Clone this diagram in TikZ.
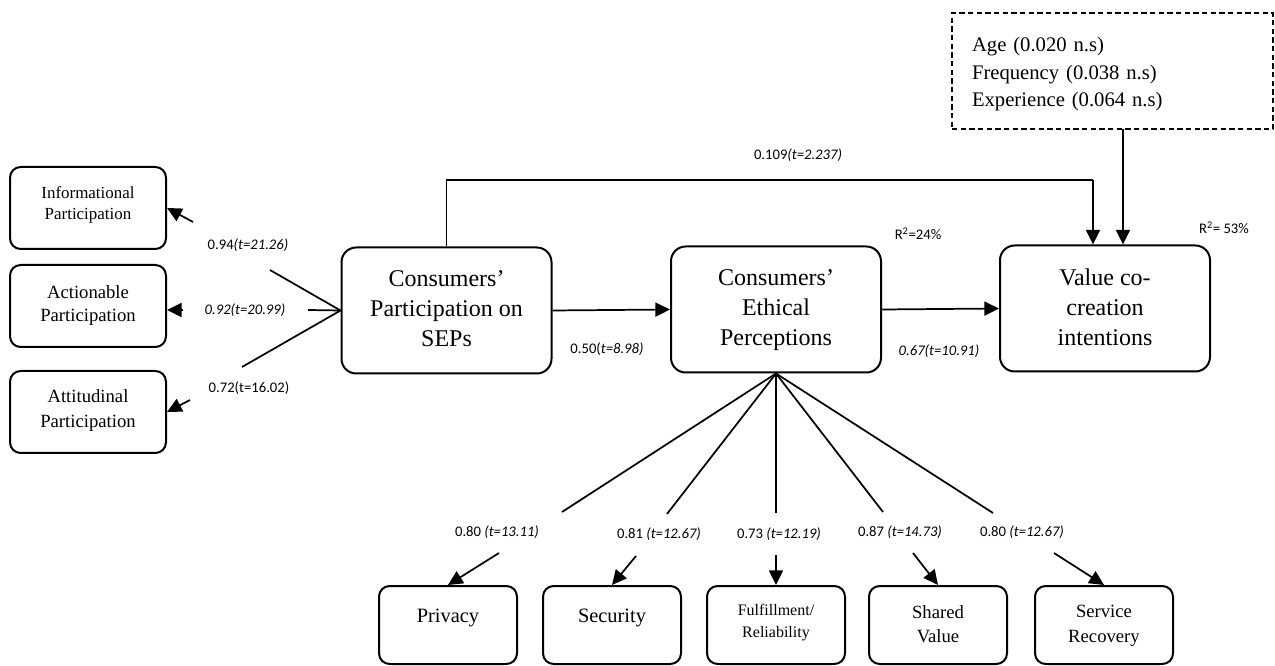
\documentclass[tikz,border=0pt]{standalone}
\usepackage{fontspec}
\setmainfont{Liberation Serif}
\newfontfamily\labfont{Carlito}
\usetikzlibrary{arrows.meta}
\newcommand{\liftlines}[2]{\raisebox{#1}[\height][\depth]{\begin{tabular}{@{}c@{}}#2\end{tabular}}}
\begin{document}
\begin{tikzpicture}[x=0.75pt,y=-0.75pt,
  box/.style={draw, line width=1.5pt, rounded corners=11pt, inner sep=0pt},
  big/.style={box, minimum width=157.5pt, minimum height=94.5pt, font=\fontsize{18}{22.5}\selectfont},
  side/.style={box, rounded corners=8pt, minimum width=117pt, minimum height=61.5pt},
  low/.style={box, rounded corners=8pt, minimum width=103.5pt, minimum height=58.5pt},
  ln/.style={line width=1.3pt},
  arr/.style={ln, -{Triangle[length=11pt,width=10.5pt]}},
  lab/.style={font=\labfont\fontsize{11}{13}\selectfont, inner sep=0pt},
]
\useasboundingbox (0,0) rectangle (1275,666);

% main constructs
\node[big] (P) at (446.5,310.5) {\liftlines{0pt}{Consumers’\\Participation on\\SEPs}};
\node[big] (E) at (776,309.5) {\liftlines{0pt}{Consumers’\\Ethical\\Perceptions}};
\node[big] (V) at (1105,308.5) {\liftlines{-0.5pt}{Value co-\\creation\\intentions}};

% left dimensions
\node[side, font=\fontsize{12.7}{16}\selectfont] (I) at (88,208) {\liftlines{2.5pt}{Informational\\Participation}};
\node[side, font=\fontsize{14}{17.5}\selectfont] (A) at (88,306) {\liftlines{0.5pt}{Actionable\\Participation}};
\node[side, font=\fontsize{14}{18.5}\selectfont] (T) at (88,412) {\liftlines{1.5pt}{Attitudinal\\Participation}};

% bottom dimensions
\node[low, font=\fontsize{15.3}{18}\selectfont] (Pr) at (448,625) {\liftlines{5.5pt}{Privacy}};
\node[low, font=\fontsize{15.3}{18}\selectfont] (Se) at (612,625) {\liftlines{5.5pt}{Security}};
\node[low, font=\fontsize{12}{16}\selectfont] (Fu) at (776,625) {\liftlines{2pt}{Fulfillment/\\Reliability}};
\node[low, font=\fontsize{14}{18}\selectfont] (Sh) at (938,625) {\liftlines{-0.5pt}{Shared\\Value}};
\node[low, font=\fontsize{14}{18.5}\selectfont] (Re) at (1104,625) {\liftlines{0pt}{Service\\Recovery}};

% controls box
\node[draw, dashed, dash pattern=on 4pt off 2.5pt, line width=1.2pt, minimum width=240.75pt, minimum height=87pt,
      text width=210.75pt, inner xsep=15pt, inner ysep=0pt, align=left,
      font=\fontsize{15.5}{20.5}\selectfont] (D) at (1112.5,71)
      {\raisebox{-2pt}[\height][\depth]{\begin{tabular}{@{}l@{}}Age (0.020 n.s)\\Frequency (0.038 n.s)\\Experience (0.064 n.s)\end{tabular}}};

% free ends
\coordinate (l1a) at (270,270); \coordinate (l1b) at (193,222);
\coordinate (l2a) at (308,310); \coordinate (l2b) at (183,310);
\coordinate (l3a) at (242,367); \coordinate (l3b) at (190,400);
\coordinate (f1a) at (562,512); \coordinate (f1b) at (499,553);
\coordinate (f2a) at (667,514); \coordinate (f2b) at (636,556);
\coordinate (f3a) at (776,513); \coordinate (f3b) at (776,555);
\coordinate (f4a) at (883,512); \coordinate (f4b) at (913,553);
\coordinate (f5a) at (993,513); \coordinate (f5b) at (1054,553);
\coordinate (topR) at (1093,180);
\coordinate (dA) at (1123,129);

% left loadings
\draw[ln] (P.west) -- (l1a);
\draw[arr] (l1b) -- (I.east);
\draw[ln] (P.west) -- (l2a);
\draw[arr] (l2b) -- (l2b -| A.east);
\draw[ln] (P.west) -- (l3a);
\draw[arr] (l3b) -- (T.east);

% structural paths
\draw[arr] (P.east) -- (E.west);
\draw[arr] (E.east) -- (V.west);
\draw[ln] (P.north) |- (topR);
\draw[arr] (topR) -- (topR |- V.north);
\draw[arr] (dA) -- (dA |- V.north);

% bottom loadings
\draw[ln] (E.south) -- (f1a); \draw[arr] (f1b) -- (Pr.north);
\draw[ln] (E.south) -- (f2a); \draw[arr] (f2b) -- (Se.north);
\draw[ln] (E.south) -- (f3a); \draw[arr] (f3b) -- (Fu.north);
\draw[ln] (E.south) -- (f4a); \draw[arr] (f4b) -- (Sh.north);
\draw[ln] (E.south) -- (f5a); \draw[arr] (f5b) -- (Re.north);

% labels
\node[lab] (t1) at (248,245) {0.94\textit{(t=21.26)}};
\node[lab] (t2) at (245,310) {\textit{0.92(t=20.99)}};
\node[lab] (t3) at (249,388) {0.72(t=16.02)};
\node[lab] (t4) at (607,349) {0.50(\textit{t=8.98)}};
\node[lab] (t5) at (939,351) {\textit{0.67(t=10.91)}};
\node[lab] (t6) at (798,155) {0.109\textit{(t=2.237)}};
\node[lab] (r1) at (918,234) {R\textsuperscript{2}=24\%};
\node[lab] (r2) at (1224,228) {R\textsuperscript{2}= 53\%};
\node[lab] (b1) at (497,532) {0.80 \textit{(t=13.11)}};
\node[lab] (b2) at (659,534) {0.81 \textit{(t=12.67)}};
\node[lab] (b3) at (779,534) {0.73 \textit{(t=12.19)}};
\node[lab] (b4) at (900,532) {0.87 \textit{(t=14.73)}};
\node[lab] (b5) at (1022,532) {0.80 \textit{(t=12.67)}};
\end{tikzpicture}
\end{document}
